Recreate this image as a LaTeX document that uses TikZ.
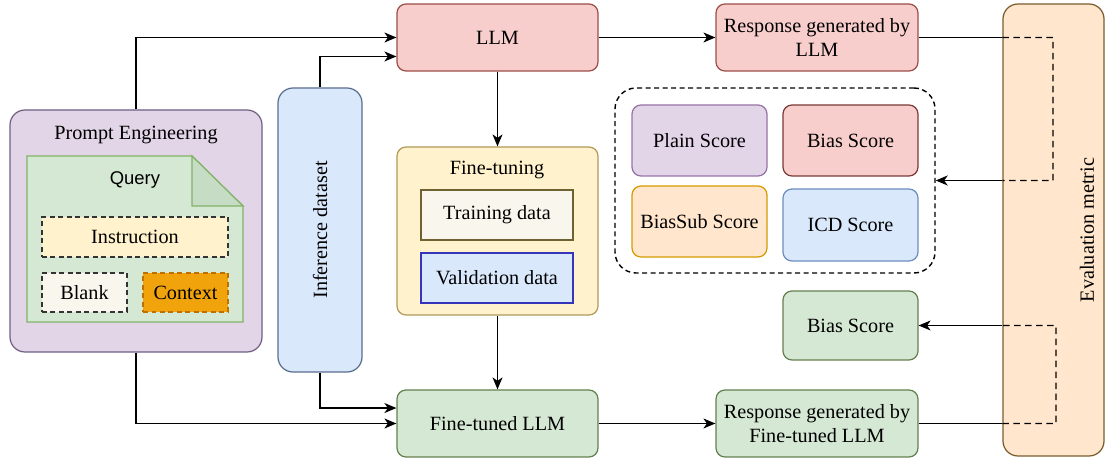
\documentclass[tikz,border=0pt]{standalone}
\usepackage{fontspec}
\setmainfont{Liberation Serif}
\newfontfamily\qsans{Liberation Sans}
\usetikzlibrary{fit,arrows.meta}
\definecolor{purF}{HTML}{E1D5E7}\definecolor{purD}{HTML}{9673A6}\definecolor{purDD}{HTML}{6F5F85}
\definecolor{grnF}{HTML}{D5E8D4}\definecolor{grnD}{HTML}{82B366}\definecolor{grnDD}{HTML}{64804F}\definecolor{grnFold}{HTML}{C6DCC5}
\definecolor{redF}{HTML}{F8CECC}\definecolor{redD}{HTML}{9C4E4A}\definecolor{redDD}{HTML}{7A3A36}
\definecolor{bluF}{HTML}{DAE8FC}\definecolor{bluD}{HTML}{6C8EBF}\definecolor{bluDD}{HTML}{5A6E8F}
\definecolor{yelF}{HTML}{FFF2CC}\definecolor{yelD}{HTML}{B09A5A}
\definecolor{orgF}{HTML}{FFE6CC}\definecolor{orgD}{HTML}{D79B00}\definecolor{orgDD}{HTML}{7A5C2E}
\definecolor{ctxF}{HTML}{F0A30A}\definecolor{ctxD}{HTML}{BD7000}
\definecolor{blkF}{HTML}{F9F7ED}\definecolor{trnD}{HTML}{6E6330}\definecolor{valD}{HTML}{3535BB}
\begin{document}
\begin{tikzpicture}[x=0.02cm,y=-0.02cm,
  font=\fontsize{11.5}{13.5}\selectfont,
  txt/.style={label={[align=center, inner sep=0pt]center:#1}},
  box/.style={draw, rounded corners=0.18cm, line width=0.7pt, inner sep=0pt},
  sq/.style={draw, line width=0.7pt, inner sep=0pt},
  dbox/.style={draw, dash pattern=on 0.1cm off 0.07cm, line width=0.7pt, inner sep=0pt},
  conn/.style={line width=0.8pt, -{Stealth[length=0.24cm, width=0.2cm, inset=0.07cm]}},
  plain/.style={line width=0.8pt},
  dline/.style={line width=0.8pt, dash pattern=on 0.13cm off 0.09cm}]
\useasboundingbox[fill=white] (0,0) rectangle (1106,462);

% Prompt engineering
\node[box, rounded corners=0.3cm, fill=purF, draw=purDD, fit={(10,110)(262,352)}] (pe) {};
\node (petitle) at (136,135) {Prompt Engineering};
\draw[line width=0.7pt, draw=grnD, fill=grnF] (27,156) -- (192,156) -- (243,206) -- (243,322) -- (27,322) -- cycle;
\draw[line width=0.7pt, draw=grnD, fill=grnFold] (192,156) -- (192,206) -- (243,206) -- cycle;
\node[font=\qsans\fontsize{10.5}{12}\selectfont] (query) at (135,180) {Query};
\node[dbox, fill=yelF, draw=black!80, fit={(42,217)(228,257)}, txt={Instruction}] (instr) {};
\node[dbox, fill=blkF, draw=black!80, fit={(42,273)(127,312)}, txt={Blank}] (blank) {};
\node[dbox, fill=ctxF, draw=ctxD, fit={(143,273)(228,312)}, txt={Context}] (ctx) {};

% Inference dataset
\node[box, rounded corners=0.3cm, fill=bluF, draw=bluDD, fit={(278,88)(362,372)}] (inf) {};
\node[rotate=90] (inftext) at (inf.center) {Inference dataset};

% LLM column
\node[box, fill=redF, draw=redD, fit={(397,4)(598,71)}, txt={LLM}] (llm) {};
\node[box, fill=yelF, draw=yelD, fit={(397,147)(598,315)}] (ft) {};
\node (fttitle) at (497,170) {Fine-tuning};
\node[sq, fill=blkF, draw=trnD, fit={(421,190)(573,240)}, txt={Training data}] (train) {};
\node[sq, fill=bluF, draw=valD, fit={(421,253)(573,303)}, txt={Validation data}] (val) {};
\node[box, fill=grnF, draw=grnDD, fit={(397,390)(598,457)}, txt={Fine-tuned LLM}] (ftllm) {};

% responses
\node[box, fill=redF, draw=redD, fit={(716,4)(918,71)}, txt={{Response generated by\\LLM}}] (resp1) {};
\node[box, fill=grnF, draw=grnDD, fit={(716,390)(918,457)}, txt={{Response generated by\\Fine-tuned LLM}}] (resp2) {};

% scores
\node[draw, dash pattern=on 0.1cm off 0.07cm, line width=0.8pt, rounded corners=0.42cm, inner sep=0pt, fit={(615,88)(935,273)}] (grp) {};
\node[box, fill=purF, draw=purD, fit={(632,105)(767,176)}, txt={Plain Score}] (plain) {};
\node[box, fill=redF, draw=redDD, fit={(783,105)(918,176)}, txt={Bias Score}] (bias1) {};
\node[box, fill=orgF, draw=orgD, fit={(632,186)(767,257)}, txt={BiasSub Score}] (biassub) {};
\node[box, fill=bluF, draw=bluD, fit={(783,189)(918,261)}, txt={ICD Score}] (icd) {};
\node[box, fill=grnF, draw=grnDD, fit={(783,291)(918,360)}, txt={Bias Score}] (bias2) {};

% evaluation metric
\node[box, rounded corners=0.3cm, fill=orgF, draw=orgDD, fit={(1003,4)(1104,456)}] (eval) {};
\node[rotate=90] (evaltext) at (1087,230) {Evaluation metric};

% connectors
\draw[conn] (pe.north) |- (llm.west);
\draw[conn] (inf.north) |- ([yshift=-10.8pt]llm.west);
\draw[conn] (pe.south) |- (ftllm.west);
\draw[conn] (inf.south) |- ([yshift=8.8pt]ftllm.west);
\draw[conn] (llm.south) -- (ft.north);
\draw[conn] (ft.south) -- (ftllm.north);
\draw[conn] (llm.east) -- (resp1.west);
\draw[conn] (ftllm.east) -- (resp2.west);

\coordinate (a1) at (resp1.east -| eval.west);
\coordinate (a2) at (1053,37.5);
\coordinate (a3) at (eval.west |- grp.east);
\draw[plain] (resp1.east) -- (a1);
\draw[dline] (a1) -- (a2) |- (a3);
\draw[conn] (a3) -- (grp.east);

\coordinate (b1) at (resp2.east -| eval.west);
\coordinate (b2) at (1056,423.5);
\coordinate (b3) at (eval.west |- bias2.east);
\draw[plain] (resp2.east) -- (b1);
\draw[dline] (b1) -- (b2) |- (b3);
\draw[conn] (b3) -- (bias2.east);
\end{tikzpicture}
\end{document}
